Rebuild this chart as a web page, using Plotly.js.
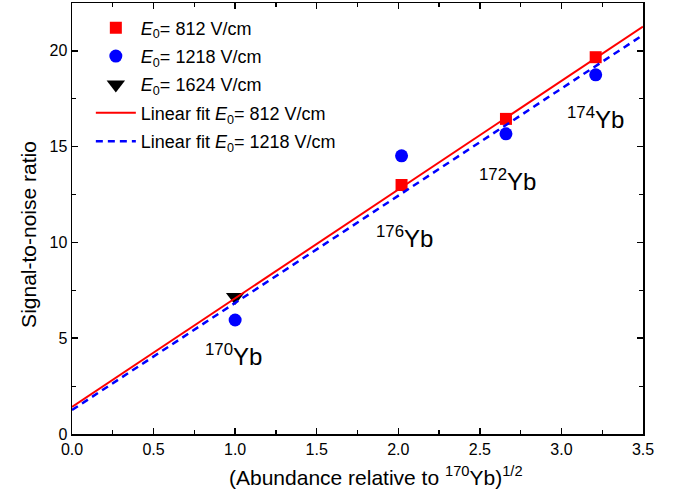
<!DOCTYPE html>
<html>
<head>
<meta charset="utf-8">
<script src="https://cdn.plot.ly/plotly-3.0.1.min.js"></script>
<style>html,body{margin:0;padding:0;background:#fff;}#chart{width:691px;height:500px;}</style>
</head>
<body>
<div id="chart"></div>
<script>
// Data
const xRed = [2.02, 2.66, 3.21];
const yRed = [13.0, 16.45, 19.67];
const xBlue = [1.0, 2.02, 2.66, 3.21];
const yBlue = [5.95, 14.52, 15.67, 18.75];
const xBlack = [1.0];
const yBlack = [7.15];
const fitX = [0, 3.5];
const fitRed = [1.41, 21.27];
const fitBlue = [1.25, 20.83];
const isoLabels = ['170', '176', '172', '174'];
const isoX = [0.99, 2.035, 2.667, 3.207];
const isoY = [4.1, 10.3, 13.25, 16.5];
const xTitle = '(Abundance relative to <sup>170</sup>Yb)<sup>1/2</sup>';
const yTitle = 'Signal-to-noise ratio';

const FONT = 'Liberation Sans, Arial, sans-serif';

const traces = [
  {x: xRed, y: yRed, type: 'scatter', mode: 'markers', name: '<i>E</i><sub>0</sub>= 812 V/cm',
   marker: {symbol: 'square', size: 12, color: '#ff0000'}, legendgroup: 'a'},
  {x: xBlue, y: yBlue, type: 'scatter', mode: 'markers', name: '<i>E</i><sub>0</sub>= 1218 V/cm',
   marker: {symbol: 'circle', size: 13, color: '#0000ff'}, legendgroup: 'b'},
  {x: xBlack, y: yBlack, type: 'scatter', mode: 'markers', name: '<i>E</i><sub>0</sub>= 1624 V/cm',
   marker: {symbol: 'triangle-down', size: 16, color: '#000000'}, legendgroup: 'c'},
  {x: fitX, y: fitRed, type: 'scatter', mode: 'lines', name: 'Linear fit <i>E</i><sub>0</sub>= 812 V/cm',
   line: {color: '#ff0000', width: 2}, legendgroup: 'd'},
  {x: fitX, y: fitBlue, type: 'scatter', mode: 'lines', name: 'Linear fit <i>E</i><sub>0</sub>= 1218 V/cm',
   line: {color: '#0000ff', width: 2.5, dash: '7px,5px'}, legendgroup: 'e'}
];

const annotations = isoLabels.map((l, i) => ({
  x: isoX[i], y: isoY[i], xref: 'x', yref: 'y',
  text: '<sup>' + l + '</sup>Yb', showarrow: false,
  font: {family: FONT, size: 24, color: '#000'},
  xanchor: 'center', yanchor: 'middle'
}));
annotations.push({
  x: 0.532, y: -0.097, xref: 'paper', yref: 'paper', text: xTitle, showarrow: false,
  font: {family: FONT, size: 21, color: '#000'}, xanchor: 'center', yanchor: 'middle'
});
annotations.push({
  x: -0.0753, y: 0.462, xref: 'paper', yref: 'paper', text: yTitle, showarrow: false, textangle: -90,
  font: {family: FONT, size: 21, color: '#000'}, xanchor: 'center', yanchor: 'middle'
});

const axisCommon = {
  showgrid: false, zeroline: false, showline: true, linecolor: '#000', linewidth: 1.5,
  mirror: 'ticks', ticks: 'inside', ticklen: 6, tickwidth: 1.5, tickcolor: '#000',
  tickfont: {family: FONT, size: 16, color: '#000'}
};

const layout = {
  width: 691, height: 500,
  margin: {l: 72, r: 48, t: 3, b: 66},
  paper_bgcolor: '#fff', plot_bgcolor: '#fff',
  font: {family: FONT, color: '#000'},
  showlegend: true,
  legend: {x: 0.033, y: 0.985, xanchor: 'left', yanchor: 'top', bgcolor: 'rgba(0,0,0,0)',
           font: {family: FONT, size: 18, color: '#000'}, tracegroupgap: 2, traceorder: 'grouped',
           itemwidth: 40},
  xaxis: Object.assign({}, axisCommon, {
    range: [0, 3.5], dtick: 0.5, tick0: 0, tickformat: '.1f',
    minor: {ticks: 'inside', dtick: 0.25, ticklen: 4, tickwidth: 1.2, tickcolor: '#000'}
  }),
  yaxis: Object.assign({}, axisCommon, {
    range: [0, 22.5], dtick: 5, tick0: 0,
    minor: {ticks: 'inside', dtick: 2.5, ticklen: 4, tickwidth: 1.2, tickcolor: '#000'}
  }),
  annotations: annotations
};

Plotly.newPlot('chart', traces, layout, {displayModeBar: false, staticPlot: true});
</script>
</body>
</html>
